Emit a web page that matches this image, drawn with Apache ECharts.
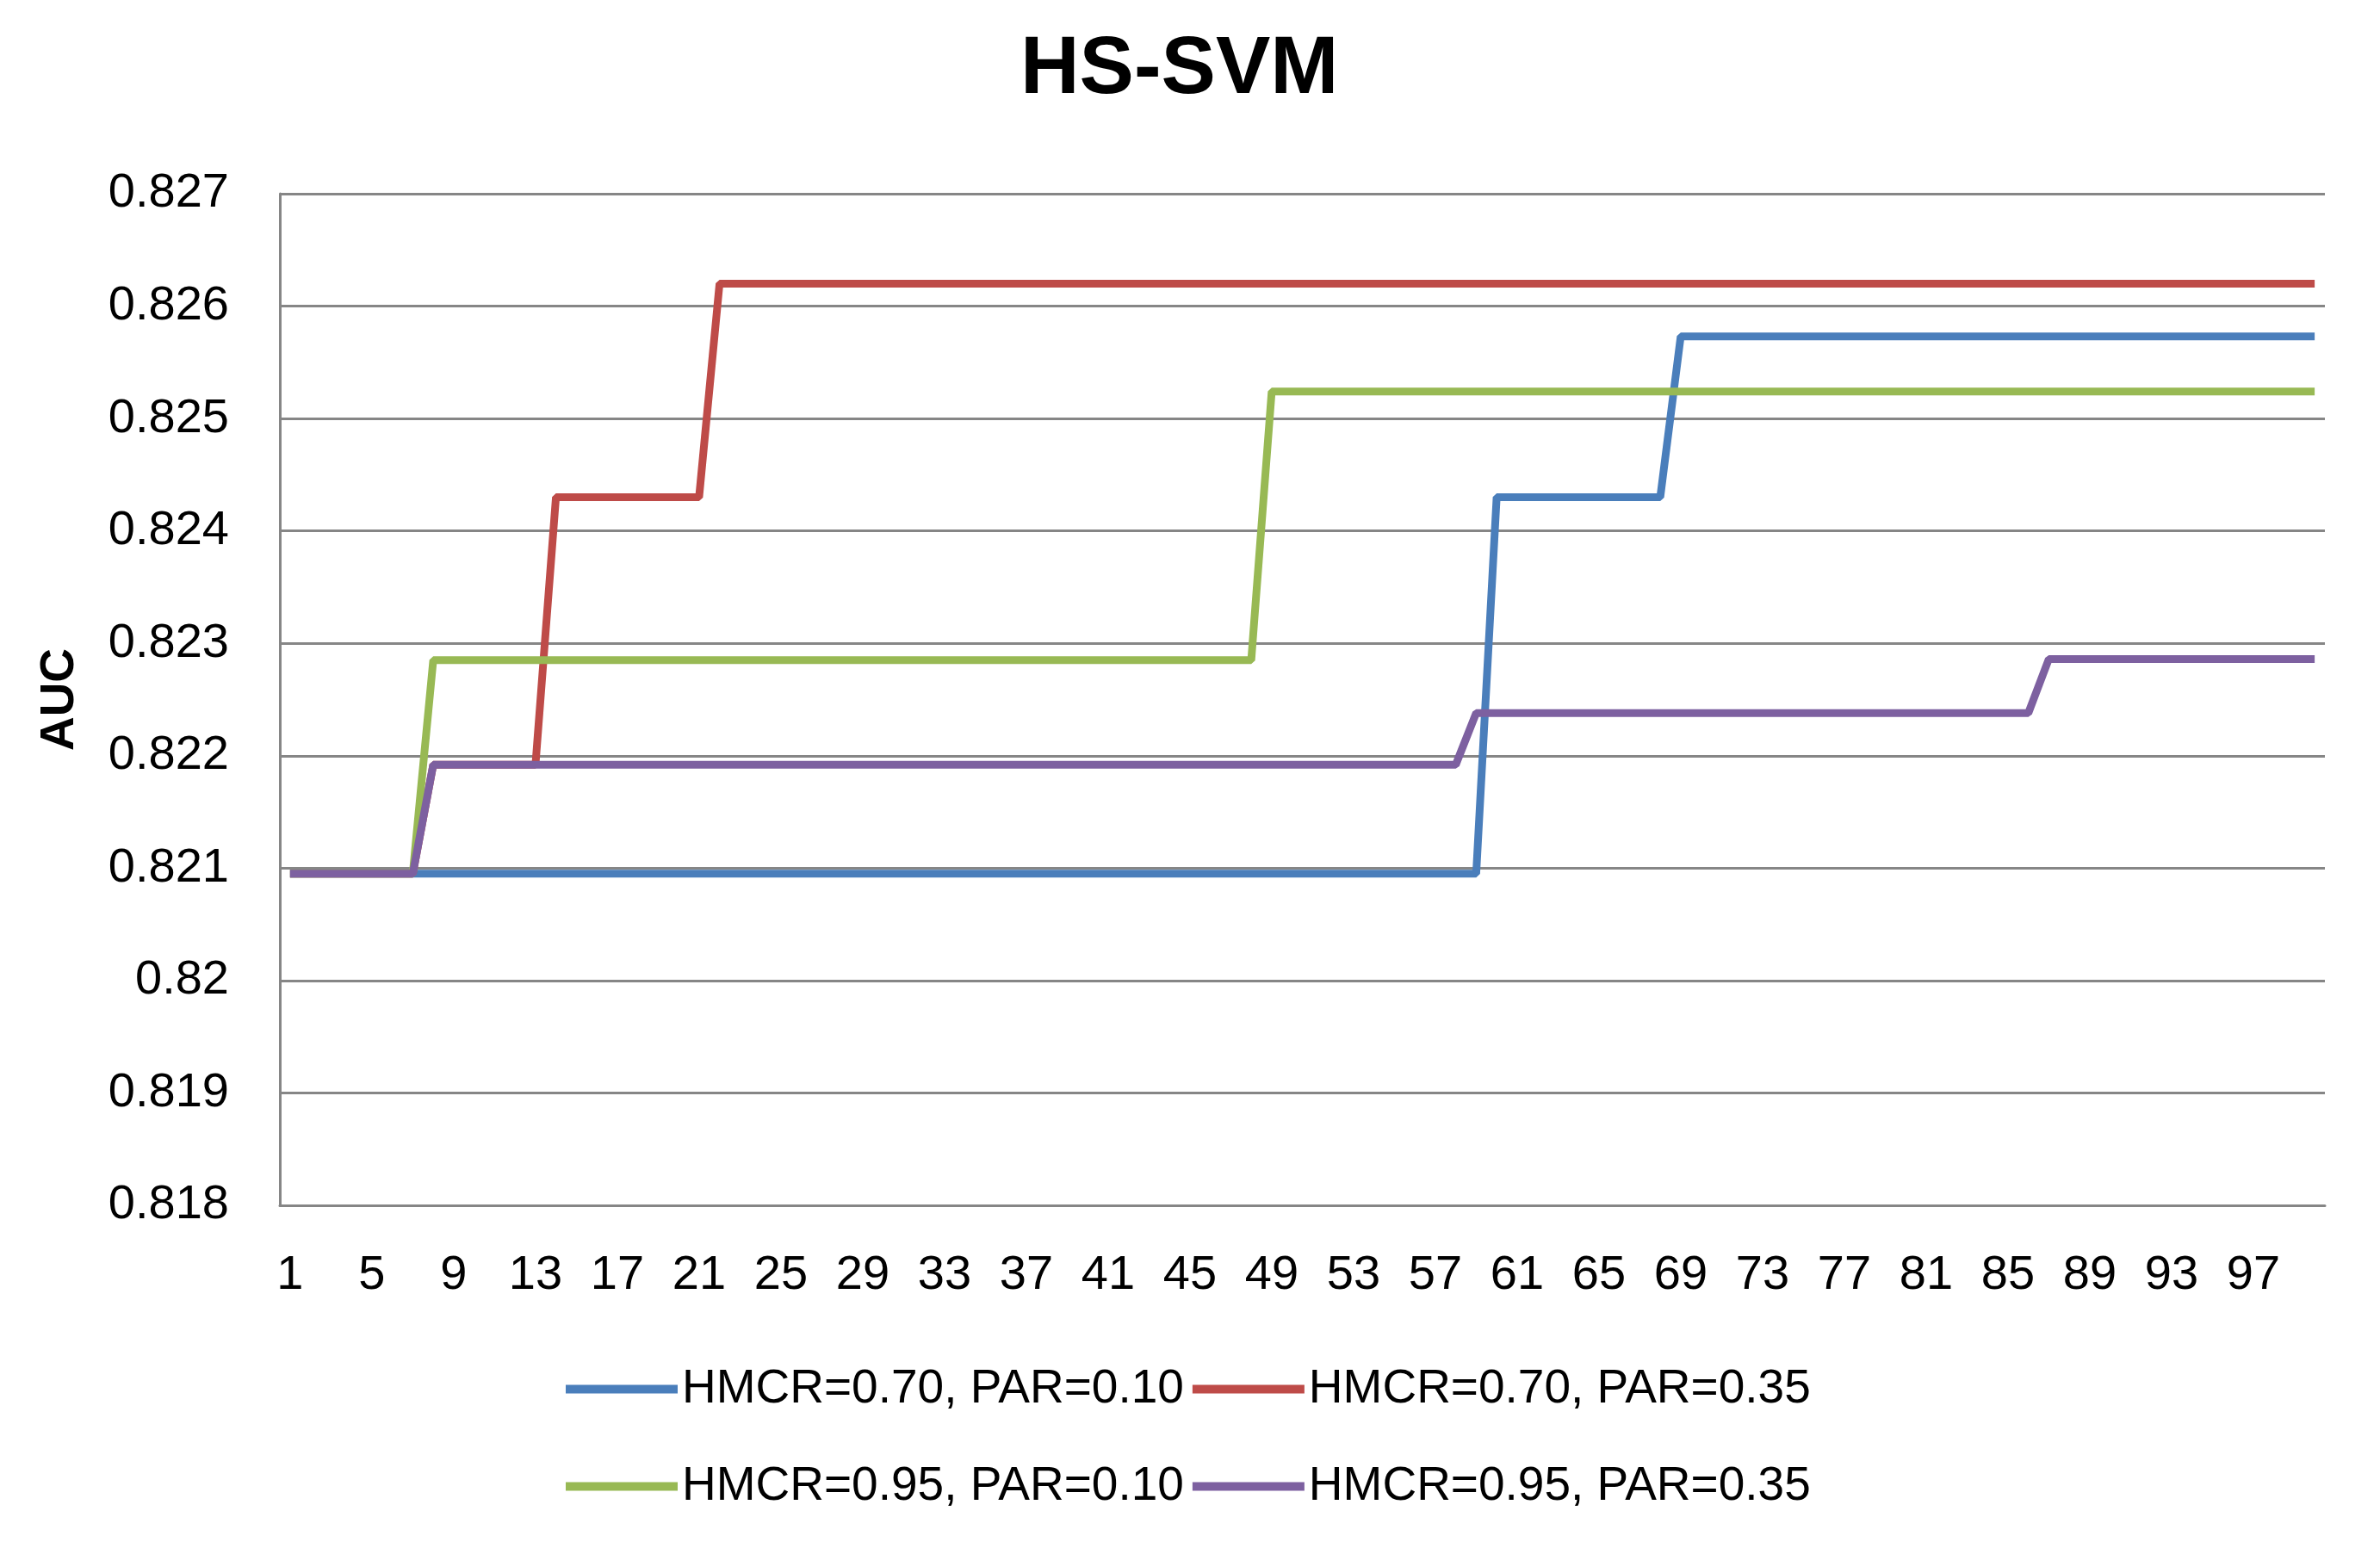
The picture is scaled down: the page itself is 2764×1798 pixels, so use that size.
<!DOCTYPE html>
<html>
<head>
<meta charset="utf-8">
<script src="https://cdn.jsdelivr.net/npm/echarts@6/dist/echarts.min.js"></script>
<style>html,body{margin:0;padding:0;background:#fff;}#chart{width:2764px;height:1798px;}</style>
</head>
<body>
<div id="chart"></div>
<script>
var categories = [1,2,3,4,5,6,7,8,9,10,11,12,13,14,15,16,17,18,19,20,21,22,23,24,25,26,27,28,29,30,31,32,33,34,35,36,37,38,39,40,41,42,43,44,45,46,47,48,49,50,51,52,53,54,55,56,57,58,59,60,61,62,63,64,65,66,67,68,69,70,71,72,73,74,75,76,77,78,79,80,81,82,83,84,85,86,87,88,89,90,91,92,93,94,95,96,97,98,99,100];
var seriesNames = ['HMCR=0.70, PAR=0.10','HMCR=0.70, PAR=0.35','HMCR=0.95, PAR=0.10','HMCR=0.95, PAR=0.35'];
var hmcr070par010 = [
0.82095,0.82095,0.82095,0.82095,0.82095,0.82095,0.82095,0.82095,0.82095,0.82095,
0.82095,0.82095,0.82095,0.82095,0.82095,0.82095,0.82095,0.82095,0.82095,0.82095,
0.82095,0.82095,0.82095,0.82095,0.82095,0.82095,0.82095,0.82095,0.82095,0.82095,
0.82095,0.82095,0.82095,0.82095,0.82095,0.82095,0.82095,0.82095,0.82095,0.82095,
0.82095,0.82095,0.82095,0.82095,0.82095,0.82095,0.82095,0.82095,0.82095,0.82095,
0.82095,0.82095,0.82095,0.82095,0.82095,0.82095,0.82095,0.82095,0.82095,0.8243,
0.8243,0.8243,0.8243,0.8243,0.8243,0.8243,0.8243,0.8243,0.82573,0.82573,
0.82573,0.82573,0.82573,0.82573,0.82573,0.82573,0.82573,0.82573,0.82573,0.82573,
0.82573,0.82573,0.82573,0.82573,0.82573,0.82573,0.82573,0.82573,0.82573,0.82573,
0.82573,0.82573,0.82573,0.82573,0.82573,0.82573,0.82573,0.82573,0.82573,0.82573];
var hmcr070par035 = [
0.82095,0.82095,0.82095,0.82095,0.82095,0.82095,0.82095,0.82192,0.82192,0.82192,
0.82192,0.82192,0.82192,0.8243,0.8243,0.8243,0.8243,0.8243,0.8243,0.8243,
0.8243,0.8262,0.8262,0.8262,0.8262,0.8262,0.8262,0.8262,0.8262,0.8262,
0.8262,0.8262,0.8262,0.8262,0.8262,0.8262,0.8262,0.8262,0.8262,0.8262,
0.8262,0.8262,0.8262,0.8262,0.8262,0.8262,0.8262,0.8262,0.8262,0.8262,
0.8262,0.8262,0.8262,0.8262,0.8262,0.8262,0.8262,0.8262,0.8262,0.8262,
0.8262,0.8262,0.8262,0.8262,0.8262,0.8262,0.8262,0.8262,0.8262,0.8262,
0.8262,0.8262,0.8262,0.8262,0.8262,0.8262,0.8262,0.8262,0.8262,0.8262,
0.8262,0.8262,0.8262,0.8262,0.8262,0.8262,0.8262,0.8262,0.8262,0.8262,
0.8262,0.8262,0.8262,0.8262,0.8262,0.8262,0.8262,0.8262,0.8262,0.8262];
var hmcr095par010 = [
0.82095,0.82095,0.82095,0.82095,0.82095,0.82095,0.82095,0.82285,0.82285,0.82285,
0.82285,0.82285,0.82285,0.82285,0.82285,0.82285,0.82285,0.82285,0.82285,0.82285,
0.82285,0.82285,0.82285,0.82285,0.82285,0.82285,0.82285,0.82285,0.82285,0.82285,
0.82285,0.82285,0.82285,0.82285,0.82285,0.82285,0.82285,0.82285,0.82285,0.82285,
0.82285,0.82285,0.82285,0.82285,0.82285,0.82285,0.82285,0.82285,0.82524,0.82524,
0.82524,0.82524,0.82524,0.82524,0.82524,0.82524,0.82524,0.82524,0.82524,0.82524,
0.82524,0.82524,0.82524,0.82524,0.82524,0.82524,0.82524,0.82524,0.82524,0.82524,
0.82524,0.82524,0.82524,0.82524,0.82524,0.82524,0.82524,0.82524,0.82524,0.82524,
0.82524,0.82524,0.82524,0.82524,0.82524,0.82524,0.82524,0.82524,0.82524,0.82524,
0.82524,0.82524,0.82524,0.82524,0.82524,0.82524,0.82524,0.82524,0.82524,0.82524];
var hmcr095par035 = [
0.82095,0.82095,0.82095,0.82095,0.82095,0.82095,0.82095,0.82192,0.82192,0.82192,
0.82192,0.82192,0.82192,0.82192,0.82192,0.82192,0.82192,0.82192,0.82192,0.82192,
0.82192,0.82192,0.82192,0.82192,0.82192,0.82192,0.82192,0.82192,0.82192,0.82192,
0.82192,0.82192,0.82192,0.82192,0.82192,0.82192,0.82192,0.82192,0.82192,0.82192,
0.82192,0.82192,0.82192,0.82192,0.82192,0.82192,0.82192,0.82192,0.82192,0.82192,
0.82192,0.82192,0.82192,0.82192,0.82192,0.82192,0.82192,0.82192,0.82238,0.82238,
0.82238,0.82238,0.82238,0.82238,0.82238,0.82238,0.82238,0.82238,0.82238,0.82238,
0.82238,0.82238,0.82238,0.82238,0.82238,0.82238,0.82238,0.82238,0.82238,0.82238,
0.82238,0.82238,0.82238,0.82238,0.82238,0.82238,0.82286,0.82286,0.82286,0.82286,
0.82286,0.82286,0.82286,0.82286,0.82286,0.82286,0.82286,0.82286,0.82286,0.82286];
var yMin = 0.818, yMax = 0.827, yStep = 0.001;
var colors = ['#4A7EBB','#BE4B48','#98B954','#7D60A0'];

var sansFont = "'Liberation Sans',Arial,sans-serif";
var chart = echarts.init(document.getElementById('chart'), null, {renderer:'canvas'});
var allData = [hmcr070par010, hmcr070par035, hmcr095par010, hmcr095par035];
var legendCommon = {
  orient: 'horizontal', left: 657, icon: 'rect', itemWidth: 130, itemHeight: 10,
  itemGap: 10, itemTextGap: 13, padding: 0,
  textStyle: {fontFamily: sansFont, fontSize: 55, color: '#000'}
};
chart.setOption({
  animation: false,
  backgroundColor: '#ffffff',
  color: colors,
  title: {
    text: 'HS-SVM', left: 1185, top: 34, padding: 0,
    textStyle: {fontFamily: sansFont, fontWeight: 'bold', fontSize: 95, color: '#000'}
  },
  legend: [
    Object.assign({}, legendCommon, {top: 1586, data: [seriesNames[0], seriesNames[1]]}),
    Object.assign({}, legendCommon, {top: 1699, data: [seriesNames[2], seriesNames[3]]})
  ],
  grid: {left: 325, right: 64, top: 225, bottom: 398, containLabel: false},
  xAxis: {
    type: 'category', data: categories, boundaryGap: true,
    axisLine: {show: true, lineStyle: {color: '#868686', width: 3}},
    axisTick: {show: false},
    axisLabel: {interval: 3, margin: 54, fontFamily: sansFont, fontSize: 56, color: '#000'},
    splitLine: {show: false}
  },
  yAxis: {
    type: 'value', min: yMin, max: yMax, interval: yStep,
    name: 'AUC', nameLocation: 'middle', nameRotate: 90, nameGap: 228,
    nameTextStyle: {fontFamily: sansFont, fontWeight: 'bold', fontSize: 55, color: '#000'},
    axisLine: {show: true, lineStyle: {color: '#868686', width: 3}},
    axisTick: {show: false},
    axisLabel: {margin: 59, fontFamily: sansFont, fontSize: 56, color: '#000',
      formatter: function (v) { return String(+v.toFixed(3)); }},
    splitLine: {show: true, lineStyle: {color: '#868686', width: 3}}
  },
  series: allData.map(function (d, i) {
    return {
      name: seriesNames[i], type: 'line', data: d, showSymbol: false, symbol: 'none',
      lineStyle: {width: 9, color: colors[i]}, itemStyle: {color: colors[i]},
      z: 2 + i
    };
  })
});
</script>
</body>
</html>
